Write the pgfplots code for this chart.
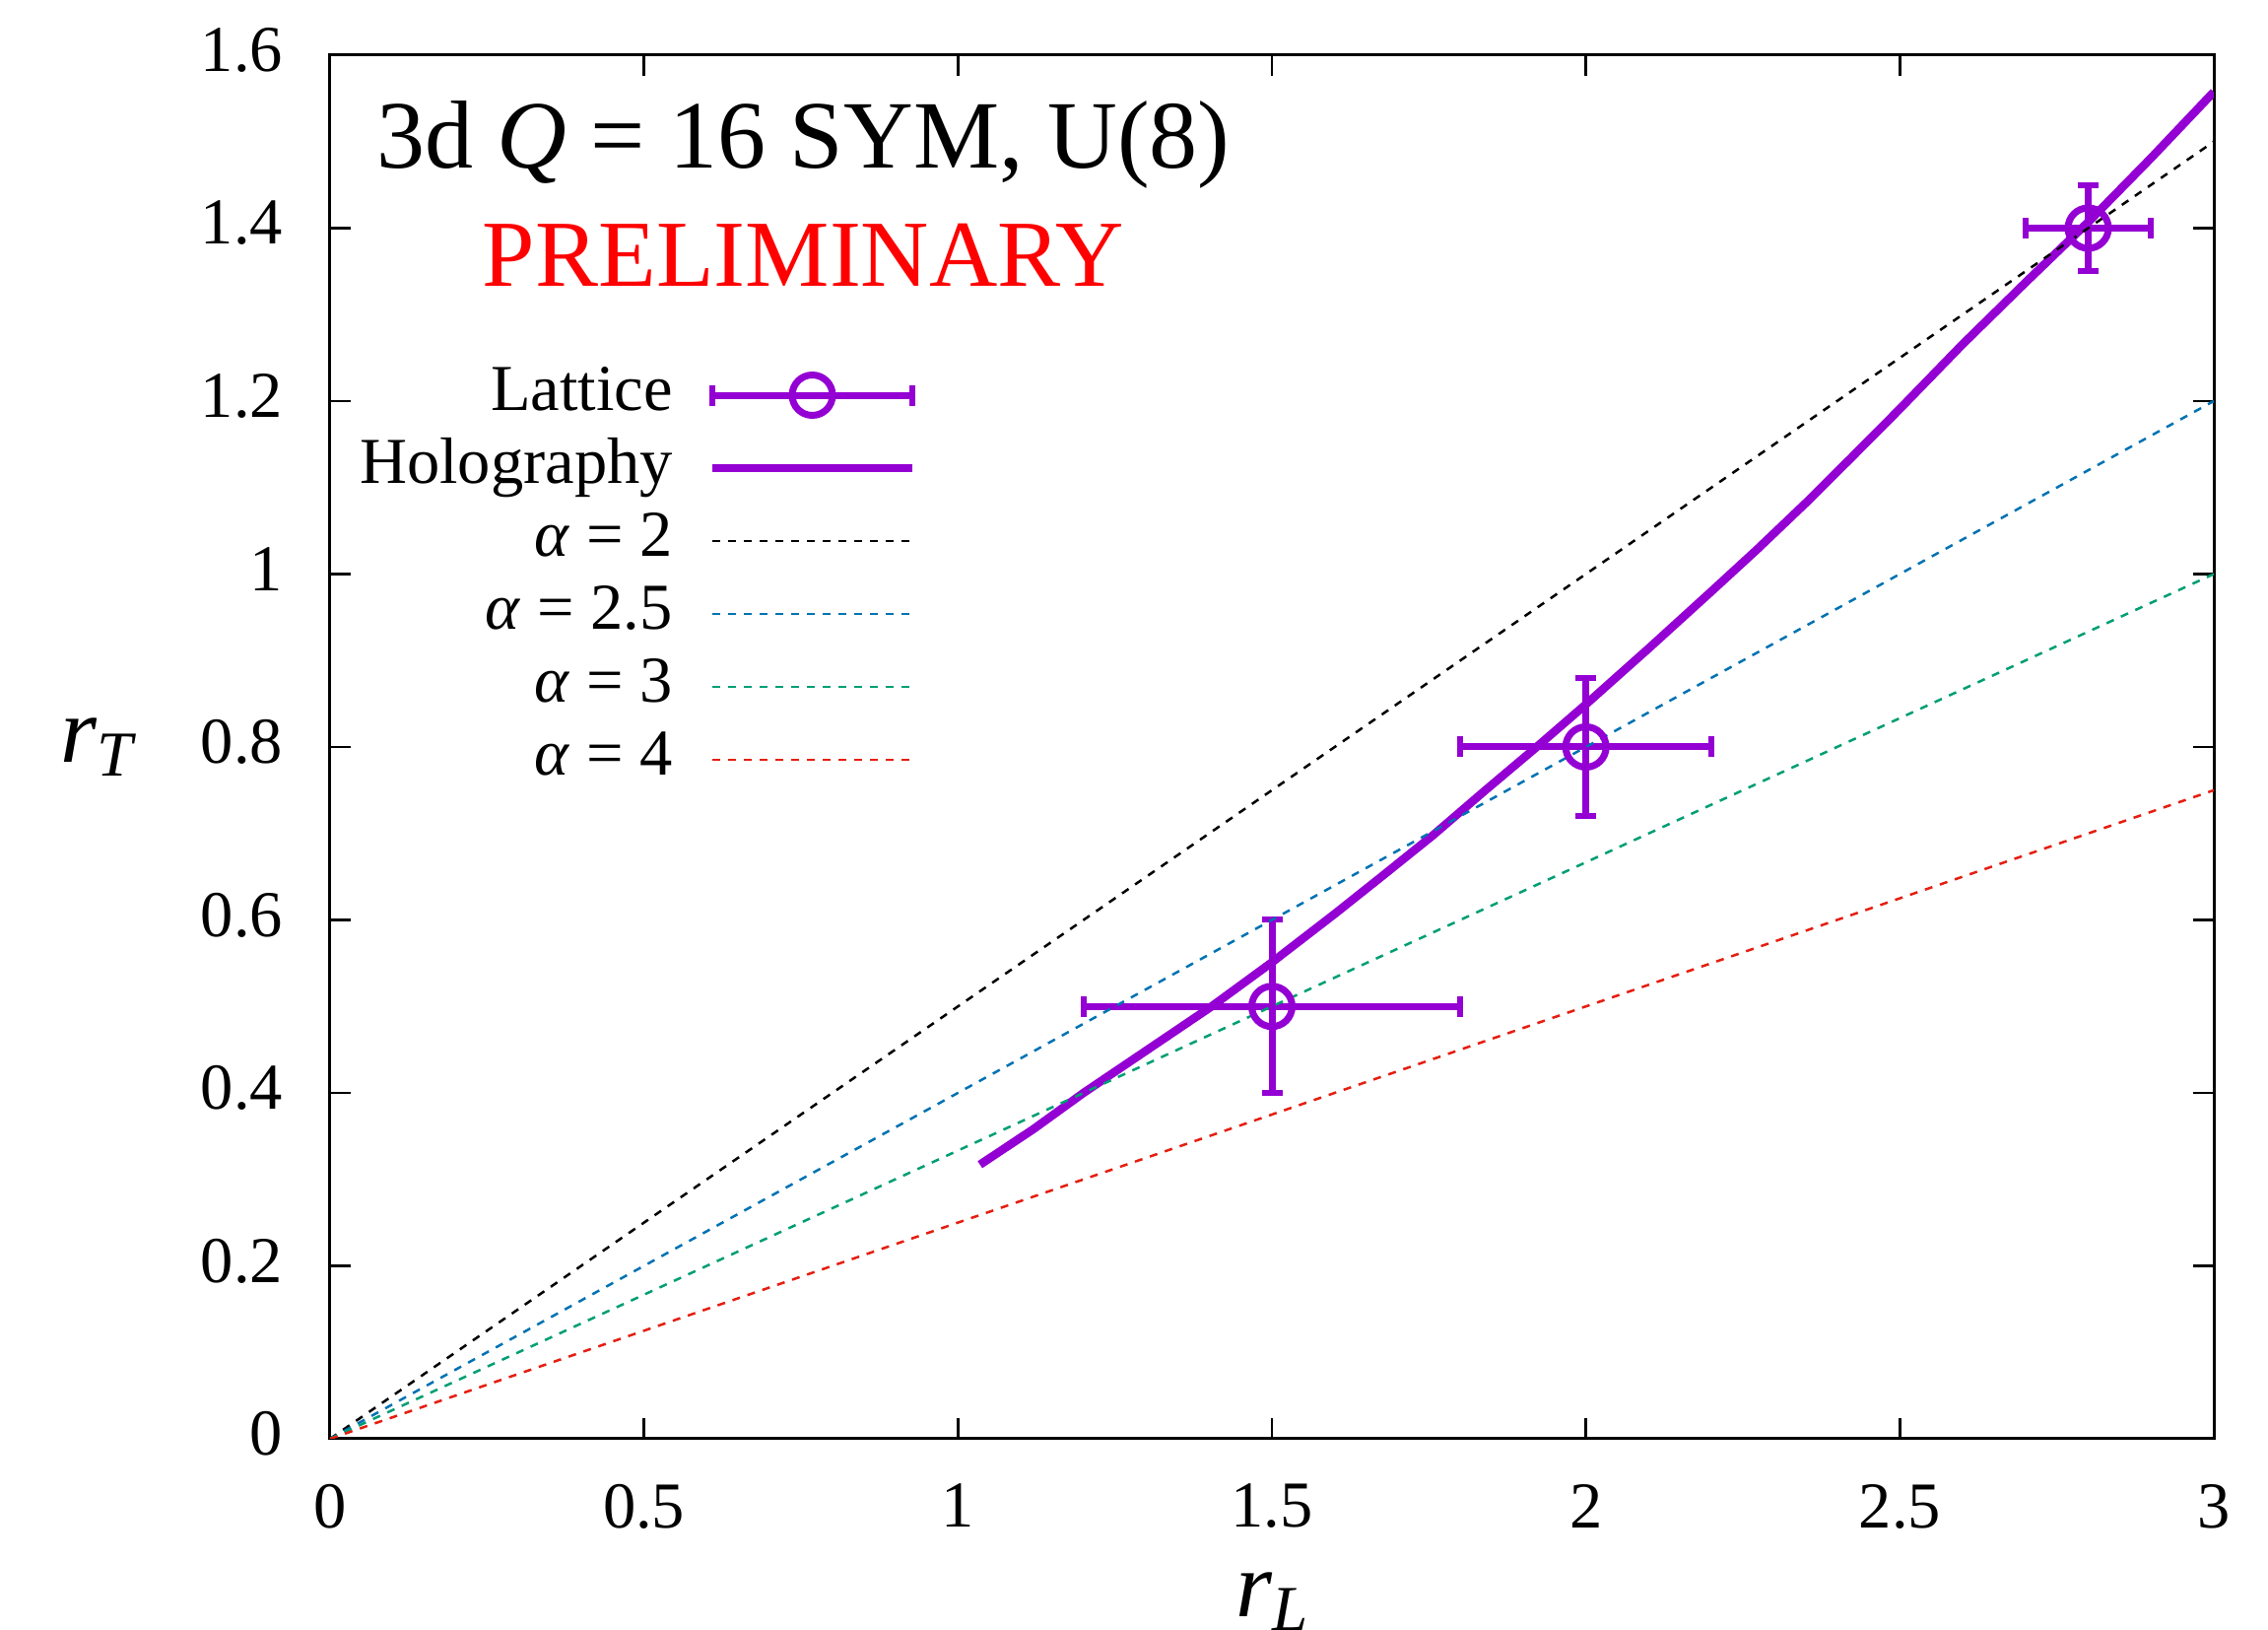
\documentclass[border=0pt]{standalone}
\usepackage{fontspec}
\setmainfont{Liberation Serif}
\usepackage{pgfplots}
\pgfplotsset{compat=1.18}

\definecolor{lvio}{HTML}{9400D3}
\definecolor{lblue}{HTML}{0072B2}
\definecolor{lgreen}{HTML}{009E73}
\definecolor{lred}{HTML}{E51E10}

% lowered italic subscript in the text font
\newcommand{\sub}[1]{\raisebox{-2.8pt}{\fontsize{13}{13}\selectfont\textit{#1}}}

\begin{document}
\begin{tikzpicture}
  \begin{axis}[
      name=ax,
      scale only axis, width=382.4pt, height=280.8pt,
      xmin=0, xmax=3, ymin=0, ymax=1.6,
      xtick={0,0.5,1,1.5,2,2.5,3},
      ytick={0,0.2,0.4,0.6,0.8,1,1.2,1.4,1.6},
      tick align=inside, major tick length=4.2pt,
      axis line style={line width=0.6pt},
      tick style={line width=0.5pt, black},
      /pgf/number format/assume math mode=true,
      /pgf/number format/fixed,
      ticklabel style={font=\fontsize{13.3}{15}\selectfont, inner sep=0pt},
      xticklabel style={yshift=-9pt},
      yticklabel style={xshift=-9.4pt, yshift=1pt},
      every axis y label/.style={at={(axis description cs:0,0.5)}, anchor=center,
        xshift=-47pt, inner sep=0pt, font=\fontsize{19}{22}\selectfont},
      every axis x label/.style={at={(axis description cs:0.5,0)}, anchor=north,
        yshift=-27pt, inner sep=0pt, font=\fontsize{19}{22}\selectfont},
      xlabel={\textit{r}\sub{L}},
      ylabel={\textit{r}\sub{T}},
      legend image code/.code={\draw[#1] (0pt,0pt) -- (40.6pt,0pt);},
      legend cell align=right, legend plot pos=right,
      legend style={at={(axis cs:0.934,1.241)}, anchor=north east,
        draw=none, fill=none, inner sep=0pt, outer sep=0pt,
        row sep=2.8pt, column sep=7.2pt,
        font=\fontsize{13.3}{15}\selectfont,
        nodes={inner sep=0pt, text height=9pt, text depth=3pt}},
    ]
    % lattice points with errors in both directions
    \addplot[lvio, line width=1.4pt, only marks, mark=o, mark size=4.1pt,
      mark options={line width=1.4pt, fill=none},
      legend image code/.code={
        \draw[lvio, line width=1.4pt] (0pt,0pt) -- (40.6pt,0pt);
        \draw[lvio, line width=1.2pt] (0pt,-2.1pt) -- (0pt,2.1pt);
        \draw[lvio, line width=1.2pt] (40.6pt,-2.1pt) -- (40.6pt,2.1pt);
        \draw[lvio, line width=1.4pt] (20.3pt,0pt) circle (4.1pt);},
      error bars/.cd, x dir=both, x explicit, y dir=both, y explicit,
      error bar style={line width=1.4pt, lvio},
      error mark options={rotate=90, mark size=2.1pt, line width=1.2pt, lvio}]
      coordinates {
        (1.5,0.5) +- (0.3,0.1)
        (2.0,0.8) +- (0.2,0.08)
        (2.8,1.4) +- (0.1,0.05)
      };
    \addlegendentry{Lattice}

    \addplot[lvio, line width=1.7pt] coordinates {
      (1.035,0.317) (1.12,0.358) (1.2,0.400) (1.3,0.449) (1.404,0.500)
      (1.5,0.551) (1.6,0.607) (1.671,0.648) (1.755,0.697) (1.84,0.750)
      (1.920,0.799) (1.998,0.848) (2.1,0.914) (2.2,0.980) (2.272,1.028)
      (2.35,1.082) (2.422,1.134) (2.5,1.191) (2.599,1.265) (2.7,1.337)
      (2.8,1.407) (2.9,1.481) (3.0,1.5575)
    };
    \addlegendentry{Holography}

    \addplot[black, line width=0.5pt, dash pattern=on 1.6pt off 1.6pt]
      coordinates {(0,0) (3,1.5)};
    \addlegendentry{\textit{α} = 2}
    \addplot[lblue, line width=0.5pt, dash pattern=on 1.6pt off 1.6pt]
      coordinates {(0,0) (3,1.2)};
    \addlegendentry{\textit{α} = 2.5}
    \addplot[lgreen, line width=0.5pt, dash pattern=on 1.6pt off 1.6pt]
      coordinates {(0,0) (3,1.0)};
    \addlegendentry{\textit{α} = 3}
    \addplot[lred, line width=0.5pt, dash pattern=on 1.6pt off 1.6pt]
      coordinates {(0,0) (3,0.75)};
    \addlegendentry{\textit{α} = 4}

    \node[anchor=base west, inner sep=0pt, font=\fontsize{19.6}{22}\selectfont]
      at (axis cs:0.0722,1.470) {3d \textit{Q} = 16 SYM, U(8)};
    \node[anchor=base west, inner sep=0pt, text=red, font=\fontsize{19.2}{22}\selectfont]
      at (axis cs:0.2416,1.3333) {PRELIMINARY};
  \end{axis}
  \pgfresetboundingbox
  \useasboundingbox (ax.south west) ++(-67pt,-38.8pt) rectangle ++(460.4pt,330.8pt);
\end{tikzpicture}
\end{document}
